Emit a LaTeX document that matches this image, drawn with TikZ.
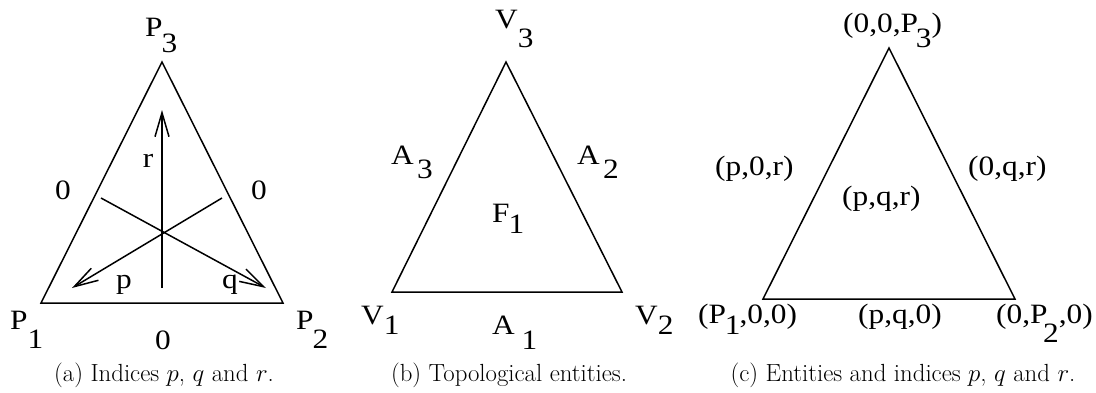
\documentclass[tikz,border=0pt]{standalone}
\usepackage{fontspec}
\usepackage{graphicx}
\newfontfamily\figfont{Liberation Serif}
\usetikzlibrary{arrows.meta}
% xfig text is a little wider than it is tall
\newcommand{\wide}[1]{\scalebox{1.12}[1]{#1}}
% letter with a lowered index, as in the xfig drawings
\newcommand{\lsub}[3][19pt]{\wide{#2\raisebox{-#1}{#3}}}

\begin{document}
\begin{tikzpicture}[x=1pt, y=-1pt,
  edge/.style={line width=1.5pt, line join=miter},
  idx/.style={line width=1.5pt, -{Straight Barb[length=24pt,width=14pt]}},
  lbl/.style={anchor=base west, inner sep=0pt, font=\figfont\fontsize{28}{32}\selectfont},
  caplbl/.style={anchor=base, inner sep=0pt, font=\fontsize{24.8}{28}\selectfont}]
\useasboundingbox (0,0) rectangle (1096,392);

% (a) indices
\coordinate (a1) at (41,303);
\coordinate (a2) at (283,303);
\coordinate (a3) at (162,62);
\draw[edge] (a1) -- (a2) -- (a3) -- cycle;
\coordinate (rfoot) at (162,288);
\coordinate (rtip) at (162,110);
\coordinate (pfoot) at (222,198);
\coordinate (ptip) at (72,288);
\coordinate (qfoot) at (101,198);
\coordinate (qtip) at (266,288);
\draw[idx] (rfoot) -- (rtip);
\draw[idx] (pfoot) -- (ptip);
\draw[idx] (qfoot) -- (qtip);
\node[lbl] (P3) at (145,36) {\lsub[16pt]{P\kern-1pt}{3}};
\node[lbl] (P1) at (10,329) {\lsub[19pt]{P}{1}};
\node[lbl] (P2) at (296,329) {\lsub[19pt]{P\kern-1pt}{2}};
\node[lbl, anchor=base] (zeroL) at (63,199) {\wide{0}};
\node[lbl, anchor=base] (zeroR) at (259,199) {\wide{0}};
\node[lbl, anchor=base] (zeroB) at (163,349) {\wide{0}};
\node[lbl, anchor=base] (rlbl) at (148,167) {\wide{r}};
\node[lbl, anchor=base] (plbl) at (124,288) {\wide{p}};
\node[lbl, anchor=base] (qlbl) at (230,288) {\wide{q}};
\node[caplbl] (capa) at (164,381) {(a) Indices $p$, $q$ and $r$.};

% (b) topological entities
\coordinate (b1) at (392,292);
\coordinate (b2) at (622,292);
\coordinate (b3) at (506,62);
\draw[edge] (b1) -- (b2) -- (b3) -- cycle;
\node[lbl] (V3) at (495,28) {\lsub[19pt]{V}{3}};
\node[lbl] (A3) at (391,164) {\lsub[14pt]{A\kern3pt}{3}};
\node[lbl] (A2) at (577,164) {\lsub[14pt]{A\kern3pt}{2}};
\node[lbl] (F1) at (492,222) {\lsub[11pt]{F\kern-1pt}{1}};
\node[lbl] (V1) at (361,324) {\lsub[10pt]{V}{1}};
\node[lbl] (A1) at (492,334) {\lsub[15pt]{A\kern6pt}{1}};
\node[lbl] (V2) at (635,324) {\lsub[10pt]{V}{2}};
\node[caplbl] (capb) at (509,381) {(b) Topological entities.};

% (c) entities and indices
\coordinate (c1) at (763,299);
\coordinate (c2) at (1015,299);
\coordinate (c3) at (889,48);
\draw[edge] (c1) -- (c2) -- (c3) -- cycle;
\node[lbl] (E3) at (843,32) {\wide{(0,0,P\kern-2pt\raisebox{-15pt}{3})}};
\node[lbl] (Epr) at (715,175) {\wide{(p,0,r)}};
\node[lbl] (Eqr) at (968,175) {\wide{(0,q,r)}};
\node[lbl] (Epqr) at (842,205) {\wide{(p,q,r)}};
\node[lbl] (E1) at (698,323) {\wide{(P\kern-1pt\raisebox{-11pt}{1}\kern-1pt,0,0)}};
\node[lbl] (Epq) at (858,323) {\wide{(p,q,0)}};
\node[lbl] (E2) at (996,323) {\wide{(0,P\kern-4pt\raisebox{-19pt}{2},0)}};
\node[caplbl] (capc) at (903,381) {(c) Entities and indices $p$, $q$ and $r$.};
\end{tikzpicture}
\end{document}
